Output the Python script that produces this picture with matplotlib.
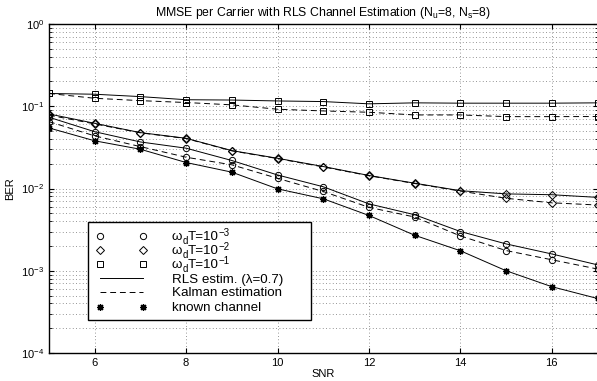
import matplotlib
matplotlib.use("Agg")
import matplotlib.pyplot as plt
from matplotlib.lines import Line2D
from matplotlib.patches import Rectangle
from matplotlib.ticker import LogLocator, NullFormatter

plt.rcParams["font.family"] = ["Liberation Sans", "DejaVu Sans"]
plt.rcParams["mathtext.fontset"] = "custom"
plt.rcParams["mathtext.rm"] = "Liberation Sans"
plt.rcParams["mathtext.it"] = "Liberation Sans"

snr = [5, 6, 7, 8, 9, 10, 11, 12, 13, 14, 15, 16, 17]

# omega_d T = 1e-3 (circles)
rls_c = [0.0735, 0.049, 0.0368, 0.0309, 0.0219, 0.0146, 0.0105, 0.0065, 0.0048, 0.0030, 0.00212, 0.0016, 0.00118]
kal_c = [0.065, 0.0436, 0.0323, 0.024, 0.0194, 0.0133, 0.0092, 0.0059, 0.0045, 0.00265, 0.00176, 0.00136, 0.00105]
# omega_d T = 1e-2 (diamonds)
rls_d = [0.0806, 0.062, 0.0478, 0.0408, 0.0289, 0.0233, 0.0185, 0.0144, 0.0116, 0.0094, 0.0086, 0.0084, 0.0078]
kal_d = [0.078, 0.061, 0.0475, 0.0405, 0.0287, 0.0231, 0.0183, 0.0143, 0.0115, 0.0093, 0.0076, 0.0067, 0.0063]
# omega_d T = 1e-1 (squares)
rls_s = [0.143, 0.14, 0.131, 0.12, 0.119, 0.116, 0.114, 0.107, 0.110, 0.109, 0.109, 0.109, 0.110]
kal_s = [0.143, 0.125, 0.117, 0.111, 0.104, 0.092, 0.0877, 0.0845, 0.0784, 0.0784, 0.0748, 0.0748, 0.075]
# known channel (stars)
known = [0.0545, 0.038, 0.030, 0.0207, 0.0158, 0.0099, 0.0075, 0.0047, 0.0027, 0.00175, 0.0010, 0.00064, 0.00046]

# legend texts: omega rows as (text, size, baseline shift in px) pieces
legend_labels = [
    [("ω", 9.6, 0), ("d", 7, 3), ("T=10", 9.6, 0), ("−3", 7, -5)],
    [("ω", 9.6, 0), ("d", 7, 3), ("T=10", 9.6, 0), ("−2", 7, -5)],
    [("ω", 9.6, 0), ("d", 7, 3), ("T=10", 9.6, 0), ("−1", 7, -5)],
    [("RLS estim. (λ=0.7)", 9.6, 0)],
    [("Kalman estimation", 9.6, 0)],
    [("known channel", 9.6, 0)],
]

W, H = 597, 381
fig = plt.figure(figsize=(W / 100, H / 100), dpi=100)
ax = fig.add_axes([49 / W, 28 / H, 548.5 / W, 329 / H])

lw = 0.7
star = (8, 2, 0)
mk = dict(color="k", mfc="none", mew=0.7, lw=lw)
ax.plot(snr, rls_s, "-", marker="s", ms=4.0, **mk)
ax.plot(snr, kal_s, "--", marker="s", ms=4.0, dashes=(6, 4), **mk)
ax.plot(snr, rls_d, "-", marker="D", ms=3.6, **mk)
ax.plot(snr, kal_d, "--", marker="D", ms=3.6, dashes=(6, 4), **mk)
ax.plot(snr, rls_c, "-", marker="o", ms=4.5, **mk)
ax.plot(snr, kal_c, "--", marker="o", ms=4.5, dashes=(6, 4), **mk)
ax.plot(snr, known, "-", marker=star, color="k", lw=lw, ms=5, mew=0.9)

ax.set_yscale("log")
ax.set_xlim(5, 17)
ax.set_ylim(1e-4, 1)
ax.set_xticks([6, 8, 10, 12, 14, 16])
ax.yaxis.set_major_locator(LogLocator(base=10, numticks=10))
ax.yaxis.set_minor_locator(LogLocator(base=10, subs=range(2, 10), numticks=10))
ax.yaxis.set_minor_formatter(NullFormatter())
ax.tick_params(which="both", direction="in", labelsize=8, top=True, right=True)
ax.tick_params(which="minor", length=2)
ax.grid(True, which="major", color="0.45", ls=(0, (1, 3)), lw=0.6)
ax.grid(True, which="minor", axis="y", color="0.45", ls=(0, (1, 3)), lw=0.6)
for s in ax.spines.values():
    s.set_linewidth(1.0)

ax.set_xlabel("SNR", fontsize=8, labelpad=1)
ax.set_ylabel("BER", fontsize=8, labelpad=4)
ax.set_title(r"MMSE per Carrier with RLS Channel Estimation (N$_u$=8, N$_s$=8)", fontsize=8.8, pad=6)

# legend drawn by hand (MATLAB style: marker pairs, own box)
def fx(px):
    return px / W


def fy(py):
    return 1 - py / H


fig.add_artist(Rectangle((fx(88), fy(320)), fx(311) - fx(88), fy(222) - fy(320),
                         transform=fig.transFigure, facecolor="white",
                         edgecolor="k", lw=1.0, zorder=5))
styles = [
    dict(ls="none", marker="o", mfc="none", ms=4.5, mew=0.7),
    dict(ls="none", marker="D", mfc="none", ms=3.6, mew=0.7),
    dict(ls="none", marker="s", mfc="none", ms=4.0, mew=0.7),
    dict(ls="-", lw=lw),
    dict(ls="--", lw=lw, dashes=(6, 4)),
    dict(ls="none", marker=star, ms=5, mew=0.9),
]
row_y = [236, 250, 264, 278, 292, 306.5]
renderer = fig.canvas.get_renderer()
for pieces, st, yy in zip(legend_labels, styles, row_y):
    fig.add_artist(Line2D([fx(100), fx(143)], [fy(yy), fy(yy)], color="k",
                          transform=fig.transFigure, zorder=6, **st))
    x = 172
    base = yy + 4.5
    for txt, size, dy in pieces:
        t = fig.text(fx(x), fy(base + dy), txt, fontsize=size, va="baseline",
                     ha="left", zorder=6)
        x += t.get_window_extent(renderer).width

fig.savefig("out.png", dpi=100)
